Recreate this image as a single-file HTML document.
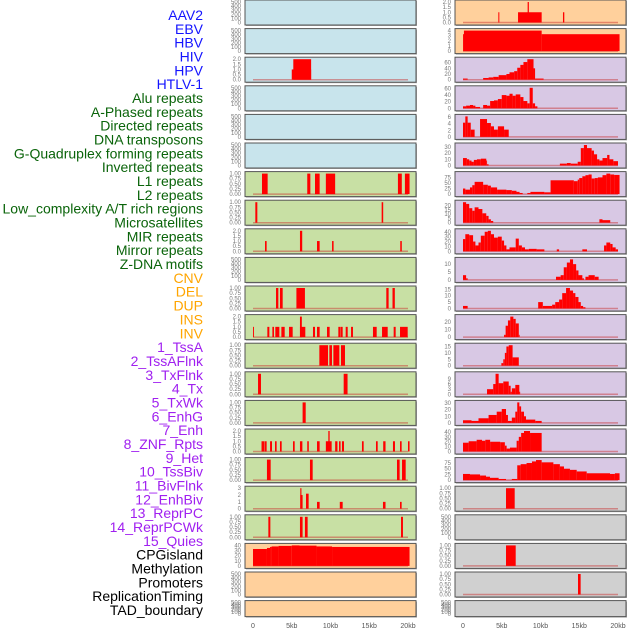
<!DOCTYPE html>
<html><head><meta charset="utf-8"><style>
html,body{margin:0;padding:0;background:#fff}
svg{display:block;font-family:"Liberation Sans",sans-serif}
</style></head><body>
<svg id="c" width="630" height="630" viewBox="0 0 630 630"></svg>
<script>
const categories=["AAV2","EBV","HBV","HIV","HPV","HTLV-1","Alu repeats","A-Phased repeats","Directed repeats","DNA transposons","G-Quadruplex forming repeats","Inverted repeats","L1 repeats","L2 repeats","Low_complexity A/T rich regions","Microsatellites","MIR repeats","Mirror repeats","Z-DNA motifs","CNV","DEL","DUP","INS","INV","1_TssA","2_TssAFlnk","3_TxFlnk","4_Tx","5_TxWk","6_EnhG","7_Enh","8_ZNF_Rpts","9_Het","10_TssBiv","11_BivFlnk","12_EnhBiv","13_ReprPC","14_ReprPCWk","15_Quies","CPGisland","Methylation","Promoters","ReplicationTiming","TAD_boundary"];
const groupSizes=[6,13,5,15,5];
const groupColors=["#1414ff","#0a640a","#ffa500","#a020f0","#000000"];
const xTicks=[0,5,10,15,20];
const xTickLabels=["0","5kb","10kb","15kb","20kb"];
const E=[0,100,200,300,400,500];
const U=[0,0.25,0.5,0.75,1];
const T=[0,0.5,1,1.5,2];
const leftBg=["#c8e4ec","#c8e4ec","#c8e4ec","#c8e4ec","#c8e4ec","#c8e4ec","#c8e0a4","#c8e0a4","#c8e0a4","#c8e0a4","#c8e0a4","#c8e0a4","#c8e0a4","#c8e0a4","#c8e0a4","#c8e0a4","#c8e0a4","#c8e0a4","#c8e0a4","#ffd09c","#ffd09c","#ffd09c"];
const rightBg=["#ffd09c","#ffd09c","#d8c8e4","#d8c8e4","#d8c8e4","#d8c8e4","#d8c8e4","#d8c8e4","#d8c8e4","#d8c8e4","#d8c8e4","#d8c8e4","#d8c8e4","#d8c8e4","#d8c8e4","#d8c8e4","#d8c8e4","#d0d0d0","#d0d0d0","#d0d0d0","#d0d0d0","#d0d0d0"];
const leftTicks=[E,E,T,E,E,E,U,U,T,E,U,T,U,U,U,T,U,[0,1,2,3],U,[0,10,20,30,40],E,E];
const leftMax=[500,500,2,500,500,500,1,1,2,500,1,2,1,1,1,2,1,3,1,40,500,500];
const rightTicks=[T,[0,1,2,3,4],[0,20,40,60],[0,20,40,60],[0,2,4,6],[0,10,20,30],[0,25,50,75],[0,5,10,15,20],[0,10,20,30,40],[0,5,10],[0,5,10,15],[0,10,20],[0,5,10,15],[0,3,6,9],[0,10,20,30],[0,10,20,30,40],[0,25,50,75],U,E,U,U,E];
const rightMax=[2,4,72,62,6.2,33,92,24,42,13,16,27,16,12,31,42,90,1,500,1,1,500];
const leftBars=[
[],[],
[[5,7.5,1],[5.2,7.5,2]],
[],[],[],
[[1.16,1.89,1],[7.0,7.4,1],[8.0,8.6,1],[9.4,10.6,1],[18.7,19.2,1],[19.6,20.2,1]],
[[0.3,0.56,1],[16.6,16.8,1]],
[[1.55,1.76,1],[6.06,6.35,2],[8.26,8.6,1],[10.2,10.4,1],[19.0,19.2,1]],
[],
[[2.97,3.27,1],[3.48,3.83,1],[5.6,6.7,1],[17.2,17.5,1],[18.0,18.3,1]],
[[0,0.12,1],[1.85,2.11,1],[2.5,2.71,1],[2.88,3.4,1],[3.66,4.09,1],[4.65,5.12,1],[6.06,6.75,1],[6.06,6.3,2],[7.74,8.0,1],[8.26,8.6,1],[9.55,9.89,1],[11.01,11.27,1],[11.31,11.57,1],[11.96,12.22,1],[12.65,12.9,1],[15.48,15.96,1],[16.65,17.38,1],[18.15,18.41,1],[18.97,19.96,1]],
[[8.56,9.68,1],[9.85,10.19,1],[10.37,11.14,1],[11.35,11.87,1]],
[[0.65,1.03,1],[11.7,12.2,1]],
[[6.4,6.8,1]],
[[1.1,1.5,1],[1.55,1.76,1],[2.2,2.45,1],[2.84,3.05,1],[3.48,3.7,1],[5.16,5.38,1],[6.06,6.37,1],[7.0,7.2,1],[8.26,8.6,1],[9.4,10.15,1],[9.72,9.89,2],[10.6,10.9,1],[11.1,11.3,1],[11.48,11.74,1],[14.06,14.28,1],[15.87,16.09,1],[16.8,17.1,1],[18.06,18.32,1],[18.97,19.18,1],[20.0,20.2,1]],
[[1.8,2.28,1],[7.35,7.7,1],[18.58,18.92,1],[19.23,19.7,1]],
[[6.1,6.4,2],[6.1,6.25,3],[6.84,7.18,2.2],[8.26,8.6,1],[11.2,11.57,1],[16.77,17.1,1],[18.97,19.18,1]],
[[1.98,2.24,1],[6.06,6.4,1],[6.7,7.05,1],[19.1,19.35,1]],
[[0,1.8,33],[1.8,2.2,35],[2.2,2.4,37],[2.4,3.3,38],[3.3,5,39],[5,6,40],[6,8.2,39.5],[8.2,10.2,38],[10.2,20.2,37]],
[],[]
];
const rightBars=[
[[4.56,4.69,1],[7.1,10.15,1],[8.34,8.5,2],[12.9,13.07,1]],
[[0,0.12,3.3],[0.12,10.15,4],[10.15,20.2,3.3]],
[[0,0.6,4],[2.6,3.3,6],[3.3,3.9,8],[3.9,4.6,10],[4.6,5.6,16],[5.6,6,20],[6,6.6,26],[6.6,7,30],[7,7.4,42],[7.4,7.8,52],[7.8,8.3,62],[8.3,9.1,72],[9.1,9.3,40],[9.3,10.4,4]],
[[0,0.4,6],[0.4,0.9,8],[0.9,1.3,10],[1.3,1.6,8],[1.6,2.2,4],[2.6,3.1,10],[3.1,3.5,8],[3.5,4,22],[4,4.5,24],[4.5,5,28],[5,5.6,40],[5.6,6,38],[6,6.4,44],[6.4,6.8,38],[6.8,7.4,42],[7.4,7.8,34],[7.8,8.3,22],[8.3,8.6,15],[8.6,9,62],[9,9.3,15],[9.3,9.6,6]],
[[0,0.3,4.3],[0.3,0.6,6.2],[0.6,1,4.3],[1,1.5,2.2],[2.2,3.1,5.4],[3.1,3.6,4.2],[3.6,4,3.2],[4,4.5,2.2],[4.5,5.3,3.2],[5.3,5.9,2.2]],
[[0,0.5,12],[0.5,0.8,10],[0.8,1.1,8],[1.1,1.4,6],[1.4,1.8,9],[1.8,2.3,10],[2.3,3,11],[3,3.1,8],[3.1,3.3,2],[12.5,13.4,3],[13.4,13.9,4],[13.9,14.8,3],[14.8,15.2,6],[15.2,15.6,28],[15.6,16,33],[16,16.6,28],[16.6,16.9,24],[16.9,17.3,18],[17.3,17.6,10],[17.6,18,8],[18,18.6,12],[18.6,18.9,17],[18.9,19.4,10],[19.4,20,7]],
[[0,0.3,25],[0.3,0.9,20],[0.9,1.2,30],[1.2,1.5,40],[1.5,2.6,55],[2.6,3.2,42],[3.2,3.6,38],[3.6,4.4,30],[4.4,5.6,20],[5.6,6.3,18],[6.3,6.9,15],[6.9,7.3,10],[7.3,7.7,5],[8.3,8.7,5],[8.7,10.5,10],[10.5,11.3,8],[11.3,14.3,62],[14.3,14.8,58],[14.8,15,65],[15,15.4,72],[15.4,15.8,80],[15.8,16.2,85],[16.2,16.6,88],[16.6,17,70],[17,17.4,72],[17.4,18,75],[18,18.5,85],[18.5,19,92],[19,19.5,88],[19.5,20.2,86]],
[[0,0.4,24],[0.4,0.8,22],[0.8,1.2,17],[1.2,1.5,14],[1.5,2,18],[2,2.5,16],[2.5,3,11],[3,3.3,8],[3.3,3.6,4],[3.6,3.9,2],[17.6,18,4],[18,19,3]],
[[0,0.3,25],[0.3,0.8,35],[0.8,1.3,33],[1.3,1.6,20],[1.6,2,12],[2,2.3,18],[2.3,2.8,32],[2.8,3.2,40],[3.2,3.6,42],[3.6,4,35],[4,4.5,28],[4.5,5,30],[5,5.3,22],[5.3,5.6,12],[5.6,6,4],[6,6.8,8],[6.8,7.2,26],[7.2,7.6,12],[7.6,8,8],[8,8.5,4],[8.5,9.5,5],[9.5,10.5,4],[12.1,12.4,4],[15.4,16,4],[18.2,18.5,12],[18.5,19,18],[19,19.3,15],[19.3,19.7,8],[19.7,20,4]],
[[0,0.4,3],[0.4,0.6,1],[12,12.6,2],[12.6,13,3],[13,13.4,8],[13.4,13.8,11],[13.8,14.2,13],[14.2,14.6,10],[14.6,14.9,6],[14.9,15.4,3],[15.4,15.6,1],[15.8,16.2,2],[16.2,17,3],[17,17.5,2]],
[[0,0.6,2],[9.7,10.3,5],[10.3,11.5,2],[11.5,11.9,3],[11.9,12.4,5],[12.4,12.8,7],[12.8,13.3,12],[13.3,13.8,16],[13.8,14.2,14],[14.2,14.5,12],[14.5,14.9,9],[14.9,15.2,5],[15.2,15.5,2],[15.5,15.8,1]],
[[5.3,5.5,3],[5.5,5.8,15],[5.8,6.1,22],[6.1,6.5,27],[6.5,6.8,24],[6.8,7.2,18],[7.2,7.3,3]],
[[4.95,5.2,2],[5.2,5.4,5],[5.4,5.6,10],[5.6,5.9,15],[5.9,6.4,16],[6.4,7.2,6.5]],
[[3.1,3.9,3],[3.9,4.2,6],[4.2,4.6,12],[4.6,5.2,6.5],[5.2,5.9,7.5],[5.9,6.15,5],[6.15,6.3,1.5],[6.3,6.75,3.5],[6.75,7.27,5.5],[7.27,7.35,1.5]],
[[0,1.1,4],[1.1,2,3],[2,3.3,7],[3.3,4.35,12],[4.35,5,17],[5,5.55,21],[5.55,5.8,12],[5.8,6.3,3],[6.3,6.75,8],[6.75,7,17],[7,7.27,31],[7.27,7.5,25],[7.5,7.87,17],[7.87,8.13,10],[8.13,9.33,5],[9.33,10.15,3]],
[[0,0.73,18],[0.73,1.76,21],[1.76,2.45,24],[2.45,2.88,22],[2.88,3.5,24],[3.5,4.8,20],[4.8,5.4,19],[5.4,5.63,12],[5.63,6.06,6],[6.06,6.92,8],[6.92,7.2,22],[7.2,7.5,30],[7.5,7.87,38],[7.87,8.65,42],[8.65,10.15,38]],
[[0,0.9,27],[0.9,2.2,25],[2.2,2.97,20],[2.97,3.48,15],[3.48,4.6,10],[4.6,5.55,5],[5.55,6.3,1],[6.3,7,5],[7,7.44,65],[7.44,8.2,70],[8.2,8.9,75],[8.9,9.42,82],[9.42,10.15,88],[10.15,11.66,78],[11.66,12.5,70],[12.5,13.03,60],[13.03,13.8,50],[13.8,14.67,45],[14.67,15.96,38],[15.96,18.97,30],[18.97,19.6,27],[19.6,20.2,30]],
[[5.55,6.67,1]],
[],
[[5.55,6.8,1]],
[[14.84,15.18,1]],
[]
];

const NS="http://www.w3.org/2000/svg";
const svg=document.getElementById('c');
function mk(t,a,p){const e=document.createElementNS(NS,t);for(const k in a)e.setAttribute(k,a[k]);(p||svg).appendChild(e);return e;}
const ROWS=22,PITCH=28.6,PH=25;
function rowTop(i){return i*PITCH;}
function rowH(i){return i===ROWS-1?16:PH;}
function xScale(kb,side){return (side?463:253)+kb/20*155;}

let li=0;
groupSizes.forEach((n,g)=>{for(let k=0;k<n;k++){const y=15+li*(595/43);
 const t=mk('text',{x:203,y:y+5,'text-anchor':'end','font-size':14,fill:groupColors[g]});
 t.textContent=categories[li];
 
 
 li++;}});

function panel(side,i){
 const bg=side?rightBg[i]:leftBg[i],ticks=side?rightTicks[i]:leftTicks[i],ymax=side?rightMax[i]:leftMax[i],bars=side?rightBars[i]:leftBars[i];
 const x0=side?455:245,w=171,top=rowTop(i),h=rowH(i),bot=top+h;
 const g=mk('g',{});
 
 
 mk('rect',{x:x0+1,y:top+1,width:w,height:h,fill:'#aaa'},g);
 mk('rect',{x:x0,y:top,width:w,height:h,fill:bg,stroke:'#555','stroke-width':1},g);
 const yb=bot-2.5,yt=top+2;
 const ys=v=>yb-(v/ymax)*(yb-yt);
 const dec=ticks.some(v=>v%1!==0&&String(v).split('.')[1]&&String(v).split('.')[1].length>1)?2:(ticks.some(v=>v%1!==0)?1:0);
 ticks.forEach(v=>{const t=mk('text',{x:x0-4,y:ys(v)+2,'text-anchor':'end','font-size':6,fill:'#777'},g);
  t.textContent=v.toFixed(dec);
  
  });
 if(ymax!==500||bars.length){mk('line',{x1:xScale(0,side),x2:xScale(20,side),y1:yb,y2:yb,stroke:'rgba(200,40,40,0.45)','stroke-width':1.5},g);}
 bars.forEach(b=>{const r=mk('rect',{x:xScale(b[0],side),y:ys(b[2]),width:Math.max(0.8,xScale(b[1],side)-xScale(b[0],side)),height:yb-ys(b[2]),fill:'#ff0000'},g);
  
  });
}
for(let i=0;i<ROWS;i++){panel(0,i);panel(1,i);}
[0,1].forEach(side=>{xTicks.forEach((v,k)=>{const t=mk('text',{x:xScale(v,side),y:628,'text-anchor':'middle','font-size':7,fill:'#555'});
 t.textContent=xTickLabels[k];
 
 });});
</script>
</body></html>
